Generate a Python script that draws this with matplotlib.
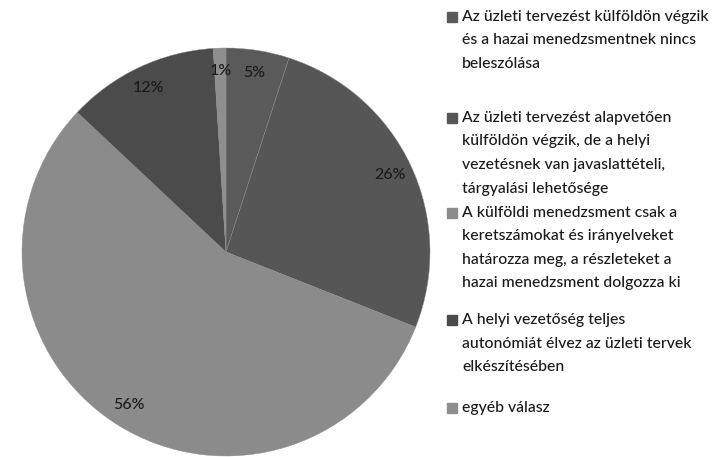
import matplotlib.pyplot as plt
from matplotlib.patches import Rectangle

plt.rcParams['font.family'] = ['Lato', 'DejaVu Sans']

# adatok
cimkek = [
    'Az üzleti tervezést külföldön végzik\nés a hazai menedzsmentnek nincs\nbeleszólása',
    'Az üzleti tervezést alapvetően\nkülföldön végzik, de a helyi\nvezetésnek van javaslattételi,\ntárgyalási lehetősége',
    'A külföldi menedzsment csak a\nkeretszámokat és irányelveket\nhatározza meg, a részleteket a\nhazai menedzsment dolgozza ki',
    'A helyi vezetőség teljes\nautonómiát élvez az üzleti tervek\nelkészítésében',
    'egyéb válasz',
]
ertekek = [5, 26, 56, 12, 1]
szinek = ['#5a5a5a', '#565656', '#8b8b8b', '#4b4b4b', '#8e8e8e']

W, H = 719, 457
fig = plt.figure(figsize=(W / 100, H / 100), dpi=100)

# kör: középpont (226, 252), sugár 204 px
cx, cy, r = 226, 252, 204
ax = fig.add_axes([(cx - r) / W, (H - cy - r) / H, 2 * r / W, 2 * r / H])
ax.pie(ertekek, colors=szinek, startangle=90, counterclock=False,
       autopct='%1.0f%%', pctdistance=0.89,
       wedgeprops=dict(linewidth=0.3, edgecolor='#8a8a8a'),
       textprops=dict(fontsize=11.5, color='#1a1a1a', fontweight='medium'))
ax.set_xlim(-1, 1)
ax.set_ylim(-1, 1)

# jelmagyarázat kézzel
kezdo_y = [17, 118, 213, 320, 408]
sor = 23.5
for cimke, szin, y0 in zip(cimkek, szinek, kezdo_y):
    fig.patches.append(Rectangle((447 / W, 1 - (y0 + 5) / H), 10 / W, 10 / H,
                                 transform=fig.transFigure, color=szin))
    for i, s in enumerate(cimke.split('\n')):
        fig.text(462 / W, 1 - (y0 + i * sor) / H, s, fontsize=11.3,
                 color='#1a1a1a', va='center', ha='left', fontweight='medium')

fig.savefig('out.png', dpi=100)
